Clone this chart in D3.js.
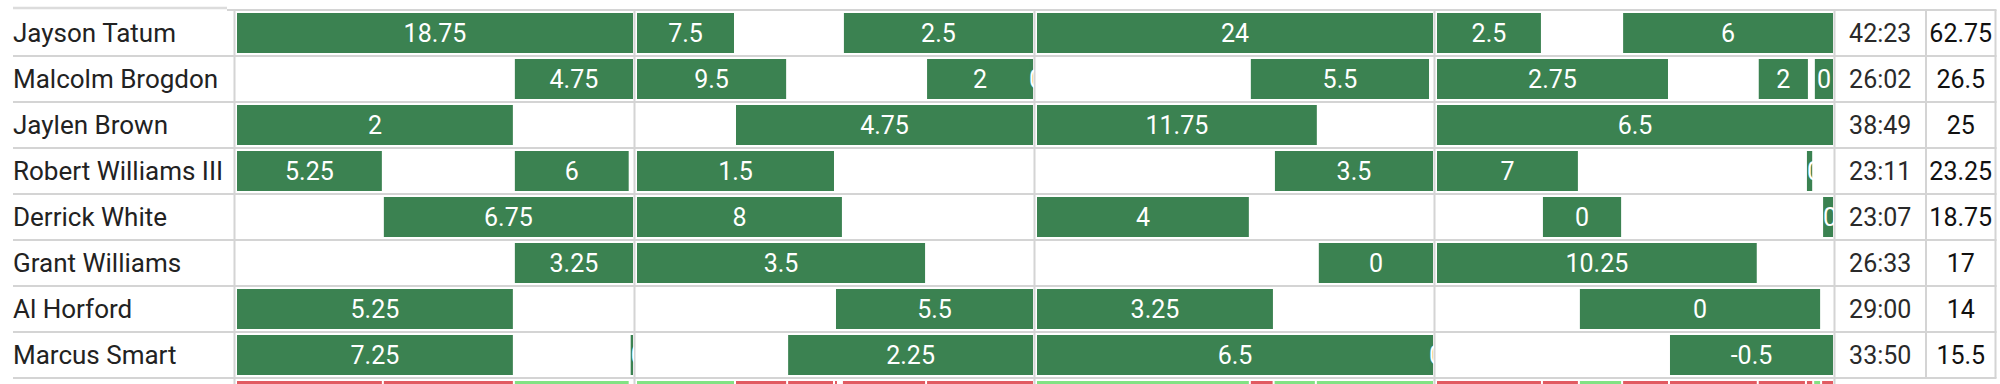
<!DOCTYPE html>
<html>
<head>
<meta charset="utf-8">
<script src="https://cdn.jsdelivr.net/npm/d3@7"></script>
<style>
  html, body { margin: 0; padding: 0; background: #ffffff; }
  svg { display: block; }
  text { font-family: Roboto, "Noto Sans", sans-serif; }
</style>
</head>
<body>
<svg id="chart" width="2000" height="384"></svg>
<script>
// ---------------- data ----------------
const players = ["Jayson Tatum", "Malcolm Brogdon", "Jaylen Brown", "Robert Williams III",
                 "Derrick White", "Grant Williams", "Al Horford", "Marcus Smart"];
const minutesPlayed = ["42:23", "26:02", "38:49", "23:11", "23:07", "26:33", "29:00", "33:50"];
const totalValues = ["62.75", "26.5", "25", "23.25", "18.75", "17", "14", "15.5"];
const quarters = [1, 2, 3, 4];
const quarterMinutes = 12;

// stints: [player index, quarter, start minute, end minute, value]
const stints = [
  [0, 1, 0, 12, 18.75], [0, 2, 0, 3.0, 7.5], [0, 2, 6.27, 12, 2.5], [0, 3, 0, 12, 24],
  [0, 4, 0, 3.21, 2.5], [0, 4, 5.64, 12, 6],
  [1, 1, 8.42, 12, 4.75], [1, 2, 0, 4.58, 9.5], [1, 2, 8.79, 12, 2], [1, 2, 11.88, 12, 0],
  [1, 3, 6.48, 11.94, 5.5], [1, 4, 0, 7.06, 2.75], [1, 4, 9.75, 11.3, 2], [1, 4, 11.45, 12, 0],
  [2, 1, 0, 8.42, 2], [2, 2, 3.0, 12, 4.75], [2, 3, 0, 8.54, 11.75], [2, 4, 0, 12, 6.5],
  [3, 1, 0, 4.45, 5.25], [3, 1, 8.42, 11.93, 6], [3, 2, 0, 6.03, 1.5], [3, 3, 7.21, 12, 3.5],
  [3, 4, 0, 4.33, 7], [3, 4, 11.21, 11.43, 0],
  [4, 1, 4.45, 12, 6.75], [4, 2, 0, 6.27, 8], [4, 3, 0, 6.48, 4], [4, 4, 3.21, 5.64, 0],
  [4, 4, 11.7, 12, 0],
  [5, 1, 8.42, 12, 3.25], [5, 2, 0, 8.79, 3.5], [5, 3, 8.54, 12, 0], [5, 4, 0, 9.75, 10.25],
  [6, 1, 0, 8.42, 5.25], [6, 2, 6.03, 12, 5.5], [6, 3, 0, 7.21, 3.25], [6, 4, 4.33, 11.67, 0],
  [7, 1, 0, 8.42, 7.25], [7, 1, 11.93, 12, 0], [7, 2, 4.58, 12, 2.25], [7, 3, 0, 12, 6.5],
  [7, 3, 11.88, 12, 0], [7, 4, 7.06, 12, -0.5]
];

// lineup strip: [quarter, start minute, end minute, result]
const lineupSegments = [
  [1, 0, 4.45, "-"], [1, 4.45, 8.42, "-"], [1, 8.42, 11.93, "+"],
  [2, 0, 3.0, "+"], [2, 3.0, 4.58, "-"], [2, 4.58, 6.0, "-"], [2, 6.0, 6.12, "-"],
  [2, 6.24, 8.79, "-"], [2, 8.79, 12, "-"],
  [3, 0, 6.48, "+"], [3, 6.48, 7.2, "-"], [3, 7.2, 8.48, "+"], [3, 8.48, 12, "+"],
  [4, 0, 3.21, "-"], [4, 3.21, 4.33, "-"], [4, 4.33, 5.64, "+"], [4, 5.64, 7.06, "-"],
  [4, 7.06, 9.75, "-"], [4, 9.75, 11.21, "-"], [4, 11.21, 11.43, "-"], [4, 11.43, 11.67, "+"],
  [4, 11.67, 12, "-"]
];

// ---------------- layout ----------------
const svg = d3.select("#chart");
const W = 2000, H = 384;
const rowKeys = players.concat(["lineup"]);
const rowH = 46, topY = 10;
const y = d3.scaleBand().domain(rowKeys).range([topY, topY + rowH * rowKeys.length]).padding(0);
const xq = d3.scaleBand().domain(quarters).range([234.5, 1834.5]).padding(0);
const xt = d3.scaleLinear().domain([0, quarterMinutes]).range([2.5, xq.bandwidth() - 1.5]);
const nameX = 13;
const minCol = [1834.5, 1926], ptsCol = [1926, 1995.5];
const gap = 2;
const barInsetTop = 3, barH = 40;
const NAME_FS = 26, NUM_FS = 25;

const GREEN = "#3b8251", RED = "#e15a61", LIGHTGREEN = "#82e283", GRID = "#d4d4d4";

// clip paths per quarter
const defs = svg.append("defs");
quarters.forEach(q => {
  defs.append("clipPath").attr("id", "clipq" + q)
    .append("rect").attr("x", xq(q) + 1).attr("y", 0)
    .attr("width", xq.bandwidth() - 1.5).attr("height", H);
});

function segX(q, s) { return xq(q) + xt(s); }
function segW(s, e) {
  const w = xt(e) - xt(s) - (e < quarterMinutes ? gap : 0);
  return Math.max(w, 1);
}

// grid lines
const grid = svg.append("g");
grid.append("line").attr("x1", nameX).attr("x2", 227).attr("y1", 8).attr("y2", 8)
  .attr("stroke", "#dcdcdc").attr("stroke-width", 2.6);
grid.append("line").attr("x1", 227).attr("x2", ptsCol[1] + 1).attr("y1", topY).attr("y2", topY)
  .attr("stroke", GRID).attr("stroke-width", 2);
rowKeys.forEach((k, i) => {
  if (i === 0) return;
  grid.append("line").attr("x1", nameX).attr("x2", ptsCol[1] + 1)
    .attr("y1", y(k)).attr("y2", y(k)).attr("stroke", GRID).attr("stroke-width", 2);
});
const vlines = [xq(1)].concat(quarters.map(q => xq(q) + xq.bandwidth()));
vlines.forEach(x => {
  grid.append("line").attr("x1", x).attr("x2", x).attr("y1", topY).attr("y2", H)
    .attr("stroke", GRID).attr("stroke-width", 2);
});
[minCol[1], ptsCol[1]].forEach(x => {
  grid.append("line").attr("x1", x).attr("x2", x).attr("y1", topY).attr("y2", y("lineup"))
    .attr("stroke", GRID).attr("stroke-width", 2);
});

// names
svg.append("g").selectAll("text").data(players).join("text")
  .attr("x", nameX).attr("y", d => y(d) + rowH / 2)
  .attr("dy", "0.36em").attr("font-size", NAME_FS).attr("fill", "#222")
  .text(d => d);

// minutes & totals
svg.append("g").selectAll("text").data(minutesPlayed).join("text")
  .attr("x", (minCol[0] + minCol[1]) / 2).attr("y", (d, i) => y(players[i]) + rowH / 2)
  .attr("dy", "0.36em").attr("text-anchor", "middle").attr("font-size", NUM_FS).attr("fill", "#2a2a2a")
  .text(d => d);
svg.append("g").selectAll("text").data(totalValues).join("text")
  .attr("x", (ptsCol[0] + ptsCol[1]) / 2).attr("y", (d, i) => y(players[i]) + rowH / 2)
  .attr("dy", "0.36em").attr("text-anchor", "middle").attr("font-size", NUM_FS).attr("fill", "#111")
  .text(d => d);

// lineup strip
svg.append("g").selectAll("rect").data(lineupSegments).join("rect")
  .attr("x", d => segX(d[0], d[1])).attr("y", y("lineup") + barInsetTop)
  .attr("width", d => segW(d[1], d[2])).attr("height", barH)
  .attr("fill", d => d[3] === "+" ? LIGHTGREEN : RED);

// stints
quarters.forEach(q => {
  const g = svg.append("g").attr("clip-path", "url(#clipq" + q + ")");
  const data = stints.filter(d => d[1] === q);
  g.selectAll("rect").data(data).join("rect")
    .attr("x", d => segX(q, d[2])).attr("y", d => y(players[d[0]]) + barInsetTop)
    .attr("width", d => segW(d[2], d[3])).attr("height", barH)
    .attr("fill", GREEN);
  g.selectAll("text").data(data).join("text")
    .attr("y", d => y(players[d[0]]) + rowH / 2)
    .attr("dy", "0.36em").attr("font-size", NUM_FS).attr("fill", "#ffffff")
    .text(d => String(d[4]))
    .each(function(d) {
      const bx = segX(q, d[2]), bw = segW(d[2], d[3]);
      const tw = this.getComputedTextLength();
      if (tw <= bw) {
        d3.select(this).attr("x", bx + bw / 2).attr("text-anchor", "middle");
      } else {
        d3.select(this).attr("x", bx).attr("text-anchor", "start");
      }
    });
});
</script>
</body>
</html>
